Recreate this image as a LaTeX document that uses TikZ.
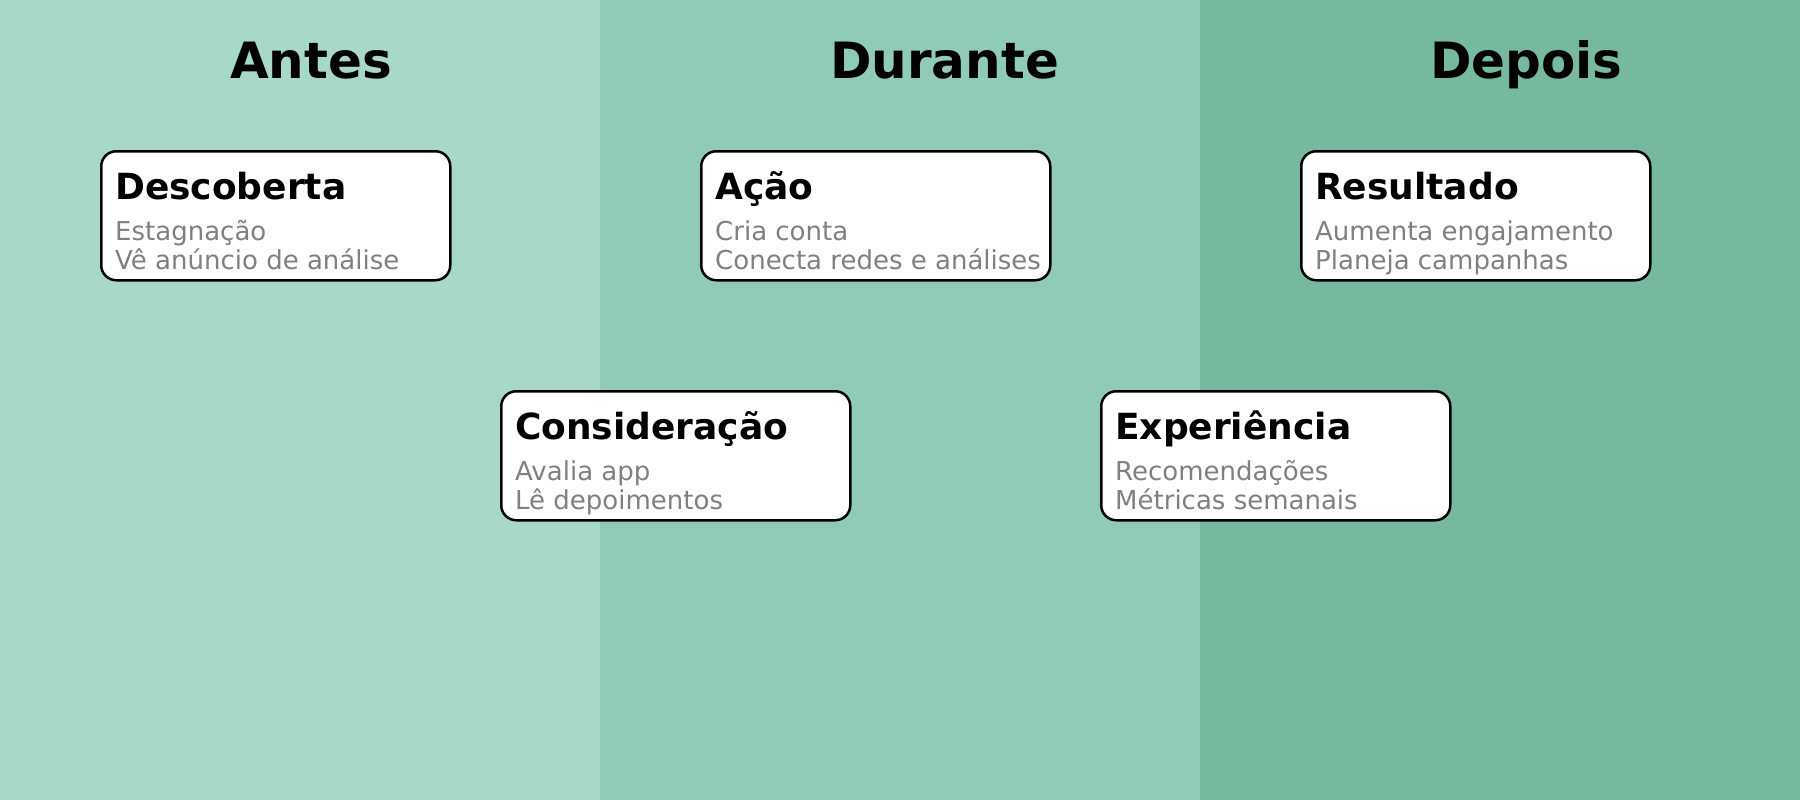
\documentclass[tikz,border=0pt]{standalone}
\usepackage{fontspec}
\setmainfont{DejaVu Sans}
\usetikzlibrary{positioning}

\definecolor{antesbg}{HTML}{A8D8C8}
\definecolor{durantebg}{HTML}{90CBB8}
\definecolor{depoisbg}{HTML}{77B99E}
\definecolor{itemgray}{HTML}{808080}

\tikzset{
  phase/.style={anchor=base west, inner sep=0pt, font=\fontsize{50}{60}\selectfont\bfseries},
  stagebox/.style={draw=black, line width=2.5pt, rounded corners=15pt, fill=white,
    anchor=north west, inner sep=0pt, minimum width=349pt, minimum height=129pt},
  stagehead/.style={anchor=base west, inner sep=0pt, font=\fontsize{36}{43}\selectfont\bfseries},
  stageline/.style={anchor=base west, inner sep=0pt, text=itemgray, font=\fontsize{26}{31}\selectfont},
}

\begin{document}
\begin{tikzpicture}[x=1pt, y=-1pt]

    \useasboundingbox (0,0) rectangle (1800,800);
    \fill[antesbg] (0,0) rectangle (600,800);
    \fill[durantebg] (600,0) rectangle (1200,800);
    \fill[depoisbg] (1200,0) rectangle (1800,800);

    \node [phase] (antes) at (230 , 78) {Antes};
    \node [phase] (durante) at (830 , 78) {Durante};
    \node [phase] (depois) at (1430 , 78) {Depois};

    \node [stagebox] (desc) at (100 , 150) {};
    \node [stagebox] (acao) at (700 , 150) {};
    \node [stagebox] (res) at (1300 , 150) {};
    \node [stagebox] (cons) at (500 , 390) {};
    \node [stagebox] (exper) at (1100 , 390) {};

    \node [stagehead] (desc-h) at ([shift={(15,49)}]desc.north west) {Descoberta};
    \node [stageline] (desc-1) at ([shift={(15,90)}]desc.north west) {Estagnação};
    \node [stageline] (desc-2) at ([shift={(15,119)}]desc.north west) {Vê anúncio de análise};

    \node [stagehead] (acao-h) at ([shift={(15,49)}]acao.north west) {Ação};
    \node [stageline] (acao-1) at ([shift={(15,90)}]acao.north west) {Cria conta};
    \node [stageline] (acao-2) at ([shift={(15,119)}]acao.north west) {Conecta redes e análises};

    \node [stagehead] (res-h) at ([shift={(15,49)}]res.north west) {Resultado};
    \node [stageline] (res-1) at ([shift={(15,90)}]res.north west) {Aumenta engajamento};
    \node [stageline] (res-2) at ([shift={(15,119)}]res.north west) {Planeja campanhas};

    \node [stagehead] (cons-h) at ([shift={(15,49)}]cons.north west) {Consideração};
    \node [stageline] (cons-1) at ([shift={(15,90)}]cons.north west) {Avalia app};
    \node [stageline] (cons-2) at ([shift={(15,119)}]cons.north west) {Lê depoimentos};

    \node [stagehead] (exper-h) at ([shift={(15,49)}]exper.north west) {Experiência};
    \node [stageline] (exper-1) at ([shift={(15,90)}]exper.north west) {Recomendações};
    \node [stageline] (exper-2) at ([shift={(15,119)}]exper.north west) {Métricas semanais};

\end{tikzpicture}
\end{document}
